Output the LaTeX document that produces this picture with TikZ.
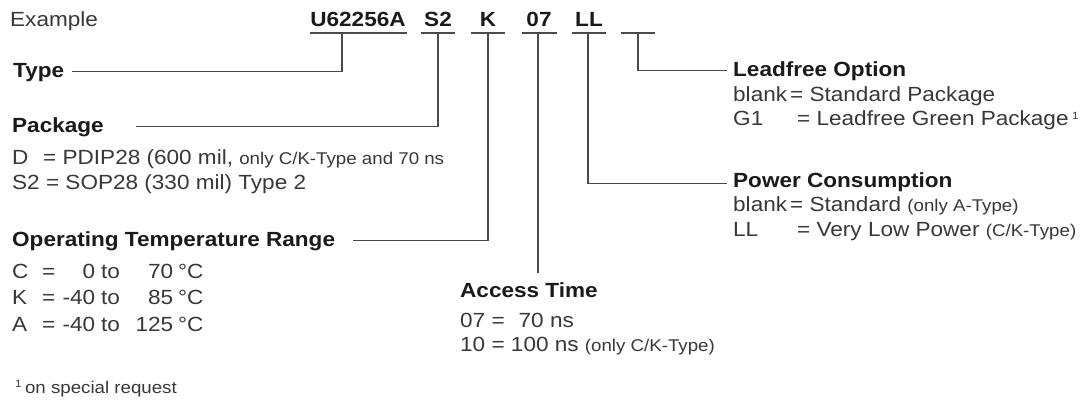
\documentclass[tikz,border=0pt]{standalone}
\usepackage{fontspec}
\setmainfont{Liberation Sans}[FakeStretch=1.1]
\definecolor{txt}{HTML}{383838}
\definecolor{hdrc}{HTML}{1A1A1A}
\definecolor{lnc}{HTML}{4A4A4A}
\newcommand\smtxt{\fontsize{17}{19}\selectfont}
\newcommand\supone{\raisebox{6pt}{\fontsize{10.5}{11}\selectfont 1}}
\begin{document}
\begin{tikzpicture}[x=1pt,y=-1pt,
 body/.style={anchor=base west, inner sep=0pt, text=txt, font=\fontsize{20.5}{23}\selectfont},
 hdr/.style={anchor=base west, inner sep=0pt, text=hdrc, font=\fontsize{20.5}{23}\selectfont\bfseries, text height=15pt, text depth=2pt},
 code/.style={anchor=base, inner sep=0pt, text=hdrc, font=\fontsize{20.5}{23}\selectfont\bfseries},
 conn/.style={draw=lnc, line width=1.9pt},
 ul/.style={draw=lnc, line width=1.9pt},
]
\useasboundingbox (0,0) rectangle (1090,403);
\fill[white] (0,0) rectangle (1090,403);

% example line
\node[body] (ex) at (10,27) {Example};
\node[code] (cU) at (358,27) {U62256A};
\node[code] (cS) at (438,27) {S2};
\node[code] (cK) at (488,27) {K};
\node[code] (c07) at (539,27) {07};
\node[code] (cLL) at (589,27) {LL};

% underlines
\draw[ul] (310,33) -- (407,33);
\draw[ul] (421,33) -- (455,33);
\draw[ul] (471,33) -- (505,33);
\draw[ul] (522,33) -- (557,33);
\draw[ul] (572,33) -- (606,33);
\draw[ul] (621,33) -- (655,33);
\coordinate (uU) at (342,33);
\coordinate (uS) at (438,33);
\coordinate (uK) at (488,33);
\coordinate (u07) at (538,33);
\coordinate (uLL) at (588,33);
\coordinate (uB) at (638,33);

% headers
\node[hdr] (type) at (13,78) {Type};
\node[hdr] (package) at (12,133) {Package};
\node[hdr] (temp) at (12,247) {Operating Temperature Range};
\node[hdr] (access) at (460,298) {Access Time};
\node[hdr] (leadfree) at (733,77) {Leadfree Option};
\node[hdr] (power) at (733,188) {Power Consumption};

% connectors
\draw[conn] (uU) |- ([xshift=8pt]type.east);
\draw[conn] (uS) |- ([xshift=32pt]package.east);
\draw[conn] (uK) |- ([xshift=18pt]temp.east);
\draw[conn] (u07) -- ([yshift=10pt]access.north -| u07);
\draw[conn] (uLL) |- ([xshift=-6pt,yshift=-2pt]power.west);
\draw[conn] (uB) |- ([xshift=-6pt]leadfree.west);

% package
\node[body] (pD) at (12,165) {\makebox[31pt][l]{D}= PDIP28 (600 mil, {\smtxt only C/K-Type and 70 ns}};
\node[body] (pS) at (12,190) {S2 = SOP28 (330 mil) Type 2};

% temperature
\node[body] (tC) at (12,279) {\makebox[30pt][l]{C}\makebox[53pt]{=\hfill 0}\makebox[78pt]{\hspace{6pt}to\hfill 70}\hspace{5pt}°C};
\node[body] (tK) at (12,305) {\makebox[30pt][l]{K}\makebox[53pt]{=\hfill -40}\makebox[78pt]{\hspace{6pt}to\hfill 85}\hspace{5pt}°C};
\node[body] (tA) at (12,332) {\makebox[30pt][l]{A}\makebox[53pt]{=\hfill -40}\makebox[78pt]{\hspace{6pt}to\hfill 125}\hspace{5pt}°C};

% access time
\node[body] (a07) at (460,327) {07 =\hspace{14pt}70 ns};
\node[body] (a10) at (460,352) {10 = 100 ns {\smtxt (only C/K-Type)}};

% leadfree
\node[body] (lB) at (733,102) {\makebox[57pt][l]{blank}= Standard Package};
\node[body] (lG) at (733,126) {\makebox[64pt][l]{G1}= Leadfree Green Package\,\supone};

% power
\node[body] (wB) at (733,212) {\makebox[57pt][l]{blank}= Standard {\smtxt (only A-Type)}};
\node[body] (wL) at (733,237) {\makebox[64pt][l]{LL}= Very Low Power {\smtxt (C/K-Type)}};

% footnote
\node[body] (fn) at (15,393) {\supone\,{\smtxt on special request}};
\end{tikzpicture}
\end{document}
